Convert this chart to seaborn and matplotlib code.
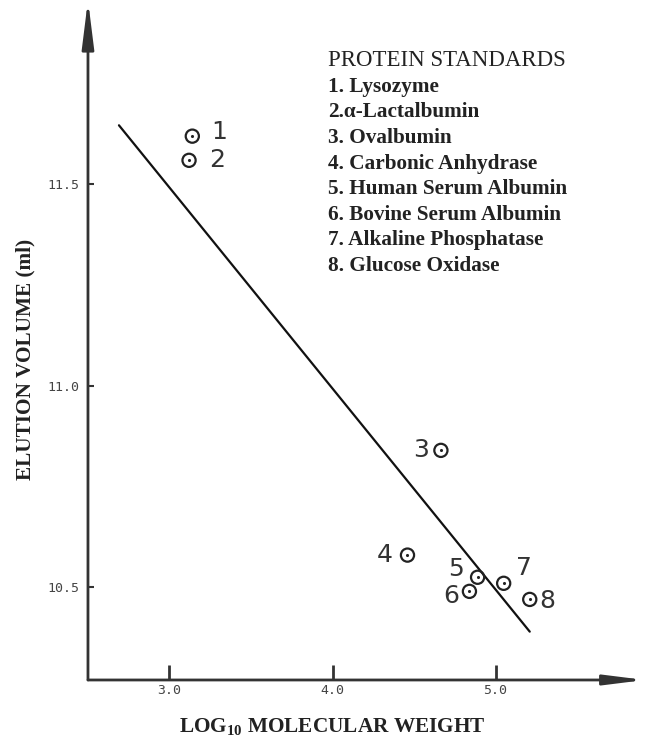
import matplotlib
matplotlib.use("Agg")
import matplotlib.pyplot as plt
import seaborn as sns
import pandas as pd

# Protein standards
protein_no = ["1", "2", "3", "4", "5", "6", "7", "8"]
log_mw = [3.14, 3.12, 4.665, 4.46, 4.89, 4.84, 5.05, 5.21]
elution_ml = [11.62, 11.56, 10.84, 10.58, 10.525, 10.49, 10.51, 10.47]

# calibration line (end points as drawn)
fit_x = [2.69, 5.21]
fit_y = [11.647, 10.39]

x_ticks = [3.0, 4.0, 5.0]
y_ticks = [10.5, 11.0, 11.5]
y_tick_labels = ["10.5", "11.0", "11.5"]

legend_title = "PROTEIN STANDARDS"
legend_items = ["1. Lysozyme", "2.\u03b1-Lactalbumin", "3. Ovalbumin",
                "4. Carbonic Anhydrase", "5. Human Serum Albumin",
                "6. Bovine Serum Albumin", "7. Alkaline Phosphatase",
                "8. Glucose Oxidase"]

# label offsets (pixels) of the numbers next to each marker
label_dx = [27, 28, -20, -23, -22, -18, 20, 18]
label_dy = [4, 0, 0, 0, 8, -5, 15, -2]

sns.set_theme(style="white")
plt.rcParams["font.family"] = ["DejaVu Sans"]
plt.rcParams["mathtext.fontset"] = "custom"
plt.rcParams["mathtext.bf"] = "Liberation Serif:bold"
plt.rcParams["mathtext.rm"] = "Liberation Serif:bold"

df = pd.DataFrame({"n": protein_no, "x": log_mw, "y": elution_ml})
fit = pd.DataFrame({"x": fit_x, "y": fit_y})

fig = plt.figure(figsize=(6.45, 7.4), dpi=100)
ax = fig.add_axes([0.1364, 0.0811, 0.8636, 0.9189])
ax.set_xlim(2.5, 5.917)
ax.set_ylim(10.27, 11.958)

sns.lineplot(data=fit, x="x", y="y", ax=ax, color="#111111", lw=1.6)
sns.scatterplot(data=df, x="x", y="y", ax=ax, s=90, facecolor="none",
                edgecolor="#222222", linewidth=1.6, zorder=3)
sns.scatterplot(data=df, x="x", y="y", ax=ax, s=5, color="#222222",
                linewidth=0, zorder=4)

px = 0.72
for n, x, y, dx, dy in zip(protein_no, log_mw, elution_ml, label_dx, label_dy):
    ax.annotate(n, (x, y), xytext=(dx * px, dy * px), textcoords="offset points",
                ha="center", va="center", fontsize=18, color="#333333")

# axes drawn as arrows
for s in ax.spines.values():
    s.set_visible(False)
ax.annotate("", xy=(0, 1.0), xytext=(0, 0), xycoords="axes fraction",
            arrowprops=dict(arrowstyle="-|>,head_length=2.4,head_width=0.3",
                            lw=2, color="#333333", shrinkA=0, shrinkB=0))
ax.annotate("", xy=(1.0, 0), xytext=(0, 0), xycoords="axes fraction",
            arrowprops=dict(arrowstyle="-|>,head_length=2.0,head_width=0.25",
                            lw=2, color="#333333", shrinkA=0, shrinkB=0))

ax.set_xticks(x_ticks)
ax.set_xticklabels([f"{t:.1f}" for t in x_ticks], family="DejaVu Sans Mono",
                   fontsize=9.5, color="#444444")
ax.set_yticks(y_ticks)
ax.set_yticklabels(y_tick_labels, family="DejaVu Sans Mono", fontsize=9.5,
                   color="#444444")
ax.tick_params(axis="x", direction="in", length=11, width=2, color="#333333",
               pad=3, bottom=True)
ax.tick_params(axis="y", direction="in", length=4, width=1.5, color="#333333",
               pad=6, left=True)

ax.set_xlabel(r"LOG$_{\mathbf{10}}$ MOLECULAR WEIGHT", family="Liberation Serif",
              fontweight="bold", fontsize=15.3, color="#222222", va="center")
ax.xaxis.set_label_coords(0.438, -0.069)
ax.set_ylabel("ELUTION VOLUME (ml)", family="Liberation Serif",
              fontweight="bold", fontsize=15.3, color="#222222", va="center")
ax.yaxis.set_label_coords(-0.113, 0.472)

# legend block of protein names
fig.text(328 / 645, 1 - 61 / 740, legend_title, family="Liberation Serif",
         fontsize=16.5, color="#222222", va="center", ha="left")
for i, item in enumerate(legend_items):
    fig.text(328 / 645, 1 - (86.7 + 25.6 * i) / 740, item,
             family=["Liberation Serif", "DejaVu Serif"], fontweight="bold",
             fontsize=15.3, color="#222222", va="center", ha="left")

fig.savefig("out.png", dpi=100)
